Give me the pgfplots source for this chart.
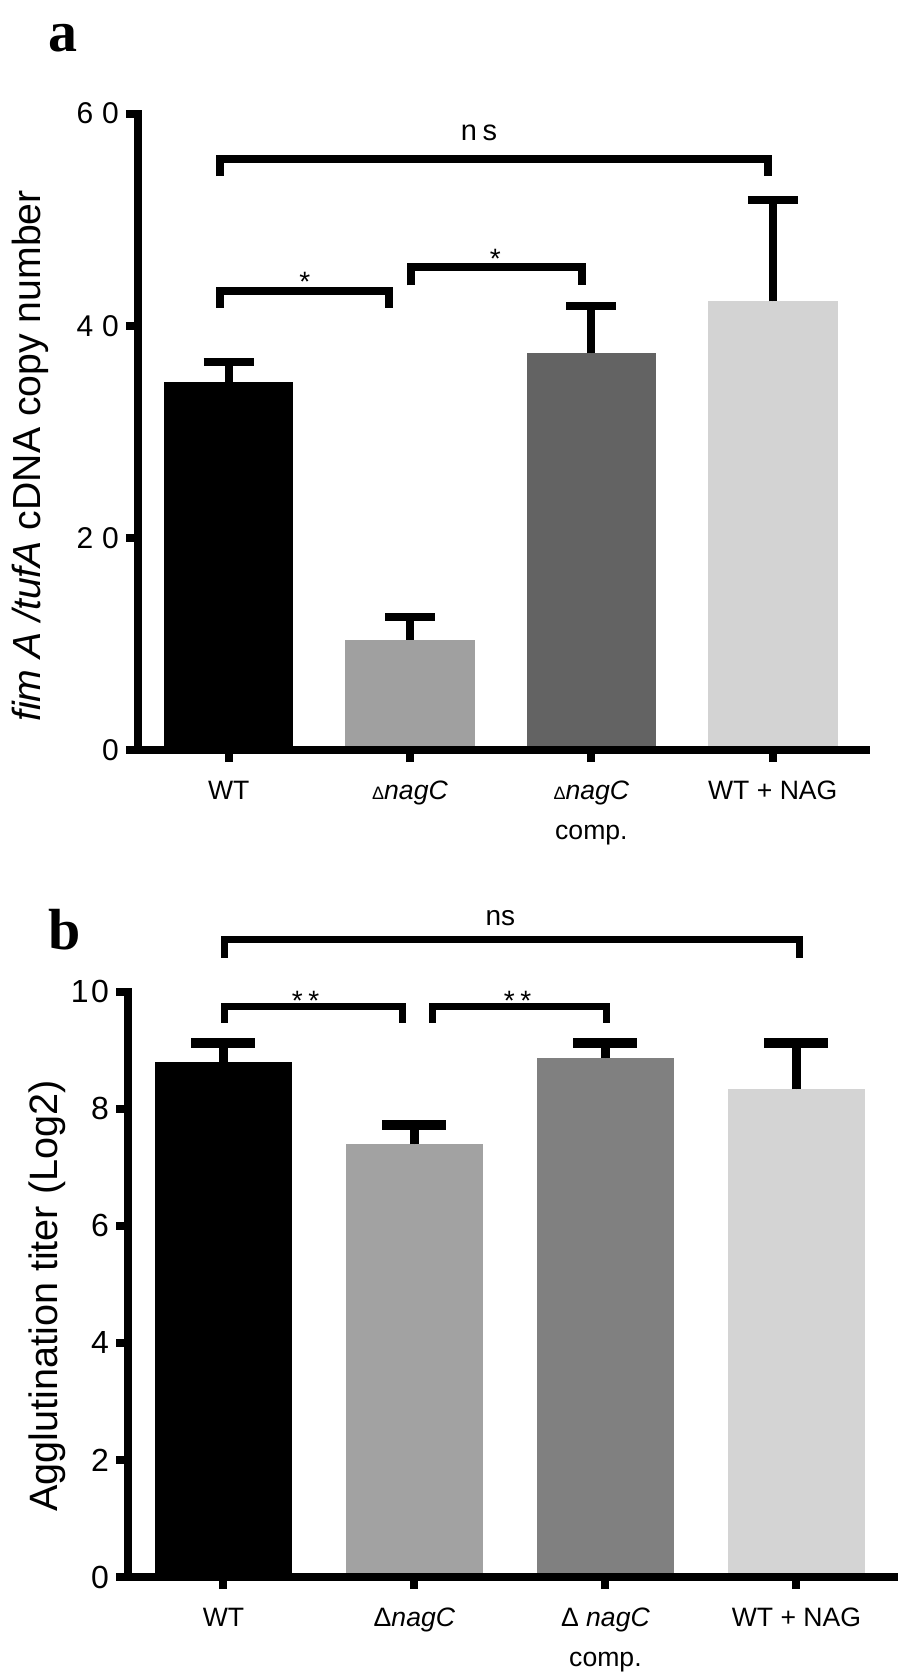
\documentclass[border=0pt]{standalone}
\usepackage{fontspec}
\setmainfont{Liberation Sans}
\newfontfamily\panelfont{Liberation Serif}
\usepackage{pgfplots}
\pgfplotsset{compat=1.18}
\definecolor{aGray}{RGB}{160,160,160}
\definecolor{aDark}{RGB}{99,99,99}
\definecolor{aLight}{RGB}{211,211,211}
\definecolor{bGray}{RGB}{162,162,162}
\definecolor{bMid}{RGB}{128,128,128}
\definecolor{bLight}{RGB}{212,212,212}
\pgfplotsset{
  barpanel/.style={
    scale only axis, axis on top, clip=false,
    axis x line=bottom, axis y line=left,
    axis line style={-, line width=4pt, line cap=rect},
    tick align=outside, major tick length=6pt,
    tick style={line width=4pt, black},
    xtick={0,1,2,3},
    xmin=-0.5,
    xticklabel style={align=center, font=\fontsize{13.3}{20}\selectfont, yshift=-6pt},
    yticklabel style={font=\fontsize{15}{17}\selectfont\addfontfeature{LetterSpace=30}},
  },
  errA/.style={error bars/.cd, y dir=plus, y explicit,
    error bar style={line width=4pt, black},
    error mark options={rotate=90, line width=4pt, mark size=12.5pt, black}},
  errB/.style={error bars/.cd, y dir=plus, y explicit,
    error bar style={line width=4.5pt, black},
    error mark options={rotate=90, line width=5pt, mark size=16pt, black}},
}
\begin{document}
\begin{tikzpicture}
\path[use as bounding box] (0,0) rectangle (449pt,-839pt);

% ---------------- panel a ----------------
\begin{axis}[barpanel,
  at={(69pt,-375pt)}, anchor=south west,
  width=364pt, height=318.25pt,
  xmax=3.514, ymin=0, ymax=60,
  ytick={0,20,40,60}, yticklabels={0,20,40,60},
  xticklabels={WT, {{\fontsize{9}{9}\selectfont Δ}\textit{nagC}}, {{\fontsize{9}{9}\selectfont Δ}\textit{nagC}\\comp.}, {WT + NAG}},
]
\addplot[ybar, bar width=0.714, bar shift=0pt, fill=black, draw=none, errA] coordinates {(0,34.7) +- (0,1.9)};
\addplot[ybar, bar width=0.714, bar shift=0pt, fill=aGray, draw=none, errA] coordinates {(1,10.4) +- (0,2.1)};
\addplot[ybar, bar width=0.714, bar shift=0pt, fill=aDark, draw=none, errA] coordinates {(2,37.4) +- (0,4.45)};
\addplot[ybar, bar width=0.714, bar shift=0pt, fill=aLight, draw=none, errA] coordinates {(3,42.3) +- (0,9.56)};
\draw[line width=4pt] (axis cs:-0.049,54.1) -- (axis cs:-0.049,55.7) -- (axis cs:2.974,55.7) -- (axis cs:2.974,54.1);
\draw[line width=4pt] (axis cs:-0.049,41.7) -- (axis cs:-0.049,43.3) -- (axis cs:0.883,43.3) -- (axis cs:0.883,41.7);
\draw[line width=4pt] (axis cs:1.005,43.8) -- (axis cs:1.005,45.5) -- (axis cs:1.946,45.5) -- (axis cs:1.946,43.8);
\node[font=\fontsize{14.5}{16}\selectfont\addfontfeature{LetterSpace=20}] at (axis cs:1.38,58.2) {ns};
\node[font=\fontsize{14}{16}\selectfont] at (axis cs:0.42,44.1) {*};
\node[font=\fontsize{14}{16}\selectfont] at (axis cs:1.47,46.3) {*};
\end{axis}
\node[rotate=90, anchor=base, font=\fontsize{19.6}{22}\selectfont] at (20pt,-228pt) {\textit{fim A /tufA} cDNA copy number};
\node[anchor=base west, font=\panelfont\bfseries\fontsize{29}{30}\selectfont] at (20.5pt,-25.5pt) {a};

% ---------------- panel b ----------------
\begin{axis}[barpanel,
  at={(64pt,-788.5pt)}, anchor=south west,
  width=383.5pt, height=292.65pt,
  xmax=3.516, ymin=0, ymax=10,
  ytick={0,2,4,6,8,10}, yticklabels={0,2,4,6,8,10},
  yticklabel style={font=\fontsize{16}{18}\selectfont\addfontfeature{LetterSpace=8}},
  xticklabels={WT, {Δ\textit{nagC}}, {Δ \textit{nagC}\\comp.}, {WT + NAG}},
]
\addplot[ybar, bar width=0.717, bar shift=0pt, fill=black, draw=none, errB] coordinates {(0,8.80) +- (0,0.32)};
\addplot[ybar, bar width=0.717, bar shift=0pt, fill=bGray, draw=none, errB] coordinates {(1,7.39) +- (0,0.33)};
\addplot[ybar, bar width=0.717, bar shift=0pt, fill=bMid, draw=none, errB] coordinates {(2,8.86) +- (0,0.27)};
\addplot[ybar, bar width=0.717, bar shift=0pt, fill=bLight, draw=none, errB] coordinates {(3,8.33) +- (0,0.79)};
\draw[line width=3.6pt] (axis cs:0.006,10.58) -- (axis cs:0.006,10.89) -- (axis cs:3.017,10.89) -- (axis cs:3.017,10.58);
\draw[line width=3.6pt] (axis cs:0.006,9.47) -- (axis cs:0.006,9.75) -- (axis cs:0.936,9.75) -- (axis cs:0.936,9.47);
\draw[line width=3.6pt] (axis cs:1.094,9.47) -- (axis cs:1.094,9.75) -- (axis cs:2.004,9.75) -- (axis cs:2.004,9.47);
\node[font=\fontsize{14}{16}\selectfont] at (axis cs:1.45,11.25) {ns};
\node[font=\fontsize{14}{16}\selectfont\addfontfeature{LetterSpace=20}] at (axis cs:0.43,9.84) {**};
\node[font=\fontsize{14}{16}\selectfont\addfontfeature{LetterSpace=20}] at (axis cs:1.54,9.84) {**};
\end{axis}
\node[rotate=90, anchor=base, font=\fontsize{19.8}{22}\selectfont] at (28.5pt,-648pt) {Agglutination titer (Log2)};
\node[anchor=base west, font=\panelfont\bfseries\fontsize{29}{30}\selectfont] at (20.5pt,-474.6pt) {b};
\end{tikzpicture}
\end{document}
